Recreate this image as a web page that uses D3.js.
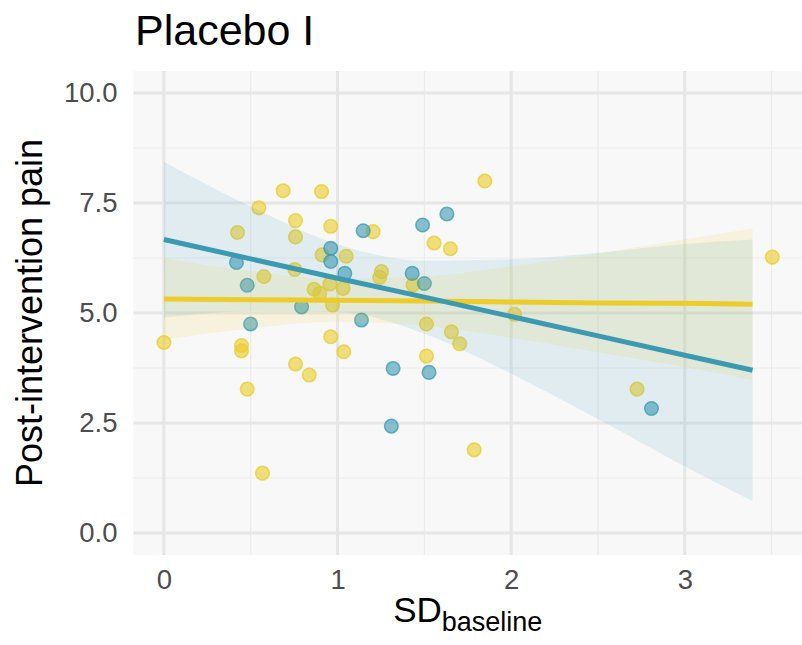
<!DOCTYPE html>
<html>
<head>
<meta charset="utf-8">
<script src="https://cdn.jsdelivr.net/npm/d3@7"></script>
<style>
  body { margin: 0; background: #fff; }
  svg { display: block; font-family: "Liberation Sans", Arial, sans-serif; }
</style>
</head>
<body>
<svg id="chart" width="802" height="645"></svg>
<script>
// points
var blueX = [0.418, 0.48, 0.499, 0.793, 0.961, 0.961, 1.042, 1.138, 1.148, 1.43, 1.49, 1.50, 1.63, 1.32, 1.527, 1.31, 2.808];
var blueY = [6.15, 5.63, 4.75, 5.14, 6.47, 6.17, 5.90, 4.84, 6.87, 5.90, 7.00, 5.67, 7.25, 3.74, 3.65, 2.43, 2.83];

var yellowX = [0.0, 0.424, 0.447, 0.447, 0.48, 0.547, 0.568, 0.576, 0.687, 0.754, 0.758, 0.758, 0.758, 0.837,
               0.865, 0.898, 0.908, 0.911, 0.956, 0.961, 0.961, 0.971, 1.032, 1.036, 1.05, 1.205, 1.243, 1.253,
               1.435, 1.512, 1.512, 1.556, 1.65, 1.656, 1.704, 1.787, 1.848, 2.02, 2.725, 3.504];
var yellowY = [4.33, 6.83, 4.26, 4.14, 3.27, 7.39, 1.36, 5.83, 7.78, 5.99, 7.10, 6.73, 3.84, 3.59,
               5.54, 5.45, 7.76, 6.32, 5.66, 6.97, 4.46, 5.18, 5.56, 4.12, 6.29, 6.85, 5.81, 5.94,
               5.64, 4.75, 4.02, 6.59, 6.46, 4.57, 4.30, 1.89, 8.00, 4.97, 3.27, 6.27];

// fitted lines and their bands, read at a few x positions
var fitX       = [0, 0.5, 1, 1.5, 2, 2.5, 3, 3.39];
var blueFit    = [6.67, 6.23, 5.79, 5.36, 4.92, 4.48, 4.04, 3.70];
var blueLow    = [4.90, 5.04, 5.02, 4.53, 3.62, 2.59, 1.51, 0.72];
var blueHigh   = [8.44, 7.42, 6.56, 6.19, 6.22, 6.37, 6.57, 6.67];
var yellowFit  = [5.32, 5.30, 5.29, 5.27, 5.25, 5.23, 5.22, 5.20];
var yellowLow  = [4.39, 4.65, 4.80, 4.71, 4.44, 4.11, 3.77, 3.48];
var yellowHigh = [6.25, 5.95, 5.78, 5.83, 6.06, 6.35, 6.67, 6.92];

var xTicks = [0, 1, 2, 3];
var xMinor = [0.5, 1.5, 2.5, 3.5];
var yTicks = [0, 2.5, 5, 7.5, 10];
var yMinor = [1.25, 3.75, 6.25, 8.75];

var blueCol = "#3B9AB2", yellowCol = "#EBCC2A";

var panel = {left: 133.5, right: 802, top: 71, bottom: 555};

var xScale = d3.scaleLinear().domain([-0.175, 3.675]).range([panel.left, panel.right]);
var yScale = d3.scaleLinear().domain([-0.5, 10.5]).range([panel.bottom, panel.top]);

var svg = d3.select("#chart");

svg.append("rect")
    .attr("x", panel.left).attr("y", panel.top)
    .attr("width", panel.right - panel.left).attr("height", panel.bottom - panel.top)
    .attr("fill", "#f8f8f8");

// grid
svg.selectAll(".xminor").data(xMinor).enter().append("line")
    .attr("x1", d => xScale(d)).attr("x2", d => xScale(d))
    .attr("y1", panel.top).attr("y2", panel.bottom)
    .attr("stroke", "#ebebeb").attr("stroke-width", 1.2);
svg.selectAll(".yminor").data(yMinor).enter().append("line")
    .attr("x1", panel.left).attr("x2", panel.right)
    .attr("y1", d => yScale(d)).attr("y2", d => yScale(d))
    .attr("stroke", "#ebebeb").attr("stroke-width", 1.2);
svg.selectAll(".xmajor").data(xTicks).enter().append("line")
    .attr("x1", d => xScale(d)).attr("x2", d => xScale(d))
    .attr("y1", panel.top).attr("y2", panel.bottom)
    .attr("stroke", "#e6e6e6").attr("stroke-width", 3);
svg.selectAll(".ymajor").data(yTicks).enter().append("line")
    .attr("x1", panel.left).attr("x2", panel.right)
    .attr("y1", d => yScale(d)).attr("y2", d => yScale(d))
    .attr("stroke", "#e6e6e6").attr("stroke-width", 3);

// points
function drawPoints(xs, ys, col) {
    svg.append("g").selectAll("circle").data(xs).enter().append("circle")
        .attr("cx", d => xScale(d))
        .attr("cy", (d, i) => yScale(ys[i]))
        .attr("r", 6.8)
        .attr("fill", col).attr("fill-opacity", 0.6)
        .attr("stroke", col).attr("stroke-opacity", 0.75).attr("stroke-width", 1.5);
}
drawPoints(yellowX, yellowY, yellowCol);
drawPoints(blueX, blueY, blueCol);

// bands
var area = d3.area()
    .x(d => xScale(d[0])).y0(d => yScale(d[1])).y1(d => yScale(d[2]))
    .curve(d3.curveMonotoneX);
function band(lo, hi) { return fitX.map((x, i) => [x, lo[i], hi[i]]); }

svg.append("path").datum(band(blueLow, blueHigh))
    .attr("d", area).attr("fill", blueCol).attr("fill-opacity", 0.12);
svg.append("path").datum(band(yellowLow, yellowHigh))
    .attr("d", area).attr("fill", yellowCol).attr("fill-opacity", 0.12);

var line = d3.line().x(d => xScale(d[0])).y(d => yScale(d[1]));
svg.append("path").datum(fitX.map((x, i) => [x, yellowFit[i]]))
    .attr("d", line).attr("fill", "none").attr("stroke", yellowCol).attr("stroke-width", 5);
svg.append("path").datum(fitX.map((x, i) => [x, blueFit[i]]))
    .attr("d", line).attr("fill", "none").attr("stroke", blueCol).attr("stroke-width", 5);

// axes (labels only)
var xAxis = d3.axisBottom(xScale).tickValues(xTicks).tickSize(0).tickPadding(14).tickFormat(d3.format("d"));
var yAxis = d3.axisLeft(yScale).tickValues(yTicks).tickSize(0).tickPadding(16).tickFormat(d3.format(".1f"));

var gx = svg.append("g").attr("transform", "translate(0," + panel.bottom + ")").call(xAxis);
var gy = svg.append("g").attr("transform", "translate(" + panel.left + ",0)").call(yAxis);
[gx, gy].forEach(function(g) {
    g.select(".domain").remove();
    g.selectAll("text").attr("font-size", 27.5).attr("fill", "#4d4d4d")
        .attr("font-family", "Liberation Sans, Arial, sans-serif");
});

// titles
svg.append("text").attr("x", 135).attr("y", 45)
    .attr("font-size", 43).attr("fill", "#000").text("Placebo I");

var xt = svg.append("text").attr("x", (panel.left + panel.right) / 2).attr("y", 622)
    .attr("text-anchor", "middle").attr("font-size", 35).attr("fill", "#000");
xt.append("tspan").text("SD");
xt.append("tspan").attr("font-size", 27).attr("dy", 9).text("baseline");

svg.append("text")
    .attr("transform", "translate(42," + (panel.top + panel.bottom) / 2 + ") rotate(-90)")
    .attr("text-anchor", "middle").attr("font-size", 36).attr("fill", "#000")
    .text("Post-intervention pain");
</script>
</body>
</html>
